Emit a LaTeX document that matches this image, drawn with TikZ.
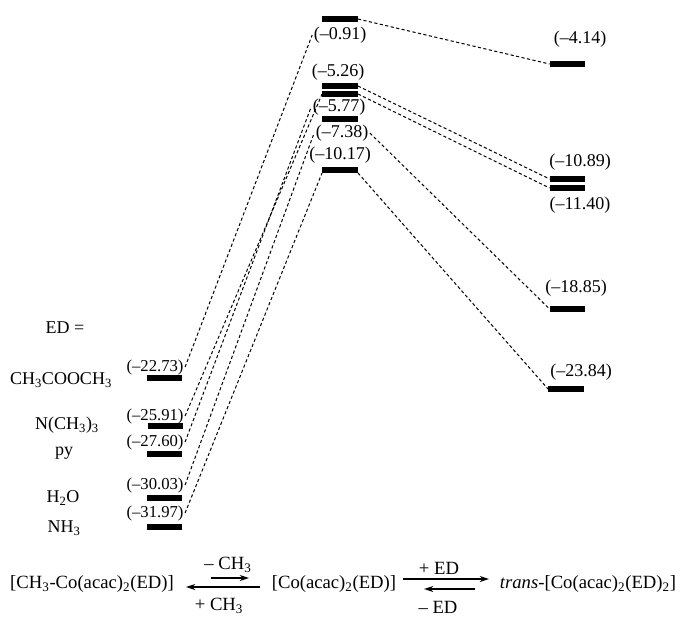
\documentclass[tikz,border=0pt]{standalone}
\usepackage{fontspec}
\setmainfont{Liberation Serif}
\usetikzlibrary{arrows.meta}
\begin{document}
\begin{tikzpicture}[x=0.75pt,y=-0.75pt,
  bar/.style={fill=black,draw=none,inner sep=0pt,minimum width=26.5pt,minimum height=4pt},
  lab/.style={inner sep=1pt,font=\fontsize{13.5}{16}\selectfont},
  llab/.style={inner sep=1pt,font=\fontsize{12.5}{15}\selectfont},
  ligand/.style={inner sep=1pt,font=\fontsize{13.5}{16}\selectfont},
  conn/.style={dash pattern=on 2.4pt off 1.8pt, line width=0.75pt},
  rxn/.style={line width=1pt,-{Stealth[length=7pt,width=4.5pt]}},
  chem/.style={inner sep=1pt,font=\fontsize{14}{16}\selectfont}]
\useasboundingbox (0,0) rectangle (680,619);

% left column
\node[bar] (l1) at (164.5,378) {};
\node[bar] (l2) at (165.5,426) {};
\node[bar] (l3) at (164.5,454) {};
\node[bar] (l4) at (164.5,498) {};
\node[bar] (l5) at (164.5,527) {};
\node[llab] (ll1) at (155,367) {(–22.73)};
\node[llab] (ll2) at (155,416) {(–25.91)};
\node[llab] (ll3) at (155,442) {(–27.60)};
\node[llab] (ll4) at (155,485) {(–30.03)};
\node[llab] (ll5) at (155,513) {(–31.97)};

\node[ligand] (ned) at (65,328) {ED =};
\node[ligand] (n1) at (61,380) {CH\textsubscript{3}COOCH\textsubscript{3}};
\node[ligand] (n2) at (67,425) {N(CH\textsubscript{3})\textsubscript{3}};
\node[ligand] (n3) at (64,453) {py};
\node[ligand] (n4) at (63,498) {H\textsubscript{2}O};
\node[ligand] (n5) at (64,528) {NH\textsubscript{3}};

% middle column
\node[bar] (m1) at (340,19) {};
\node[bar] (m2) at (340,86) {};
\node[bar] (m3) at (340,94) {};
\node[bar] (m4) at (340,119) {};
\node[bar] (m5) at (340,170) {};
\node[lab] (ml1) at (340,35) {(–0.91)};
\node[lab] (ml2) at (338,72) {(–5.26)};
\node[lab] (ml3) at (339,107) {(–5.77)};
\node[lab] (ml4) at (342,133) {(–7.38)};
\node[lab] (ml5) at (340,155) {(–10.17)};

% right column
\node[bar] (r1) at (567.5,64) {};
\node[bar] (r2) at (567.5,179) {};
\node[bar] (r3) at (567.5,188) {};
\node[bar] (r4) at (567.5,309) {};
\node[bar] (r5) at (566,389) {};
\node[lab] (rl1) at (580,39) {(–4.14)};
\node[lab] (rl2) at (580,162) {(–10.89)};
\node[lab] (rl3) at (580,205) {(–11.40)};
\node[lab] (rl4) at (576,288) {(–18.85)};
\node[lab] (rl5) at (581,372) {(–23.84)};

% connectors
\draw[conn] (ll1.east) -- (ml1.west);
\draw[conn] (ll2.east) -- (m3.west);
\draw[conn] (ll3.east) -- (ml3.west);
\draw[conn] (ll4.east) -- (ml4.west);
\draw[conn] (ll5.east) -- (m5.south west);
\draw[conn] (m1.east) -- (r1.west);
\draw[conn] (m2.east) -- (r2.west);
\draw[conn] (m3.east) -- (r3.west);
\draw[conn] (ml4.east) -- (r4.west);
\draw[conn] (m5.south east) -- (r5.west);

% reaction scheme
\node[chem] (c1) at (92,584) {[CH\textsubscript{3}-Co(acac)\textsubscript{2}(ED)]};
\node[chem] (c2) at (334,584) {[Co(acac)\textsubscript{2}(ED)]};
\node[chem] (c3) at (588,584) {\textit{trans}-[Co(acac)\textsubscript{2}(ED)\textsubscript{2}]};
\coordinate (a1) at (211,578);
\coordinate (a2) at (249,578);
\coordinate (b1) at (260,587);
\coordinate (b2) at (186,587);
\coordinate (a3) at (403,579);
\coordinate (a4) at (489,579);
\coordinate (b3) at (475,589);
\coordinate (b4) at (424,589);
\draw[rxn] (a1) -- (a2);
\draw[rxn] (b1) -- (b2);
\draw[rxn] (a3) -- (a4);
\draw[rxn] (b3) -- (b4);
\node[chem] (t1) at (228,565) {– CH\textsubscript{3}};
\node[chem] (t2) at (219,606) {+ CH\textsubscript{3}};
\node[chem] (t3) at (439,568) {+ ED};
\node[chem] (t4) at (438,607) {– ED};
\end{tikzpicture}
\end{document}
